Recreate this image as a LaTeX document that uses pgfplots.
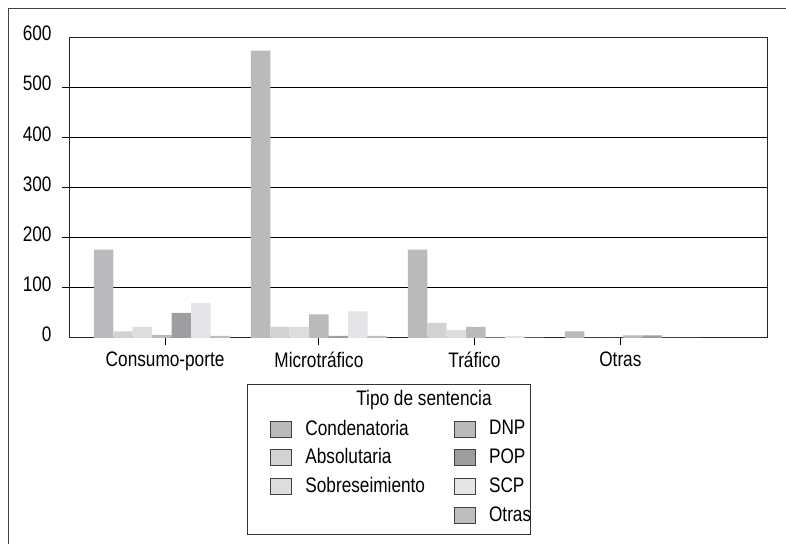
\documentclass[border=0pt]{standalone}
\usepackage{pgfplots}
\pgfplotsset{compat=1.18}
\usepackage{fontspec}
\setmainfont{Liberation Sans}[FakeStretch=0.82]
\definecolor{cCond}{RGB}{186,186,188}
\definecolor{cAbs}{RGB}{210,210,212}
\definecolor{cSob}{RGB}{221,221,223}
\definecolor{cDNP}{RGB}{186,186,188}
\definecolor{cPOP}{RGB}{158,158,160}
\definecolor{cSCP}{RGB}{229,229,231}
\definecolor{cOtras}{RGB}{190,190,192}
\pgfplotsset{mybar/.style 2 args={ybar, bar width=0.124, bar shift=#2, draw=none, fill=#1,
  legend image code/.code={\draw[fill=#1, draw=black!75, line width=0.5pt] (0pt,-4pt) rectangle (10.5pt,4pt);}}}
\newcommand{\fs}{\fontsize{10.5}{12.6}\selectfont}
\begin{document}
\begin{tikzpicture}[x=1pt,y=1pt]
\useasboundingbox (0,0) rectangle (393,272);
\draw[black!75, line width=0.5pt] (4,-10) rectangle (410,267.5);
\begin{axis}[
  at={(34.5pt,103pt)}, anchor=south west,
  scale only axis, width=349pt, height=150.5pt,
  clip=false,
  xmin=-0.592, xmax=3.854, ymin=0, ymax=600,
  xtick={0.02,1,1.99,2.92},
  xticklabels={Consumo-porte,Microtráfico,Tráfico,Otras},
  ytick={100,200,300,400,500},
  extra y ticks={0,600},
  extra y tick style={major tick length=0pt, ymajorgrids=false, yticklabel style={xshift=-3.5pt}},
  tick align=outside, xtick pos=bottom, ytick pos=left,
  major tick length=3.5pt,
  tick style={black, line width=0.5pt},
  ymajorgrids, major grid style={black, line width=0.6pt},
  axis line style={black!85, line width=0.5pt},
  /pgf/number format/assume math mode=true,
  ticklabel style={font=\fs},
  yticklabel style={xshift=-1.7pt, yshift=1.75pt},
  legend columns=2,
  legend cell align=left,
  legend style={draw=none, fill=none, at={(axis description cs:0.288,-0.2575)}, anchor=north west,
    inner sep=0pt, font=\fs, row sep=1.3pt,
    /tikz/every odd column/.append style={column sep=4.5pt},
    /tikz/every even column/.append style={column sep=12.5pt}},
]
\addplot[mybar={cCond}{-0.372}] coordinates {(0,176) (1,573) (2,176) (3,13)};
\addlegendentry{Condenatoria}
\addplot[mybar={cDNP}{0}] coordinates {(0,6) (1,47) (2,22) (3,5)};
\addlegendentry{DNP}
\addplot[mybar={cAbs}{-0.248}] coordinates {(0,13) (1,22) (2,30) (3,0)};
\addlegendentry{Absolutaria}
\addplot[mybar={cPOP}{0.124}] coordinates {(0,50) (1,4) (2,1) (3,5)};
\addlegendentry{POP}
\addplot[mybar={cSob}{-0.124}] coordinates {(0,22) (1,22) (2,16) (3,0)};
\addlegendentry{Sobreseimiento}
\addplot[mybar={cSCP}{0.248}] coordinates {(0,70) (1,53) (2,4) (3,0)};
\addlegendentry{SCP}
\addlegendimage{empty legend}
\addlegendentry{}
\addplot[mybar={cOtras}{0.372}] coordinates {(0,4) (1,4) (2,0.5) (3,0)};
\addlegendentry{Otras}
\node[font=\fs] at (axis description cs:0.5086,-0.206) {Tipo de sentencia};
\draw[black!80, line width=0.5pt] (axis description cs:0.2564,-0.1561) rectangle (axis description cs:0.6605,-0.6545);
\end{axis}
\end{tikzpicture}
\end{document}
